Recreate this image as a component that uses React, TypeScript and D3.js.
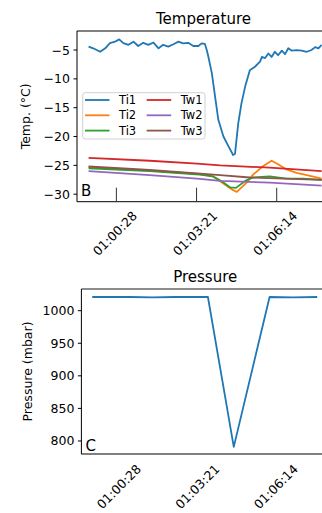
import React from 'react';
import * as d3 from 'd3';

// x tick labels (hh:mm:ss)
const tickLabels = ['01:00:28', '01:03:21', '01:06:14'];
const toSec = (s: string) => {
  const [h, m, sec] = s.split(':').map(Number);
  return h * 3600 + m * 60 + sec;
};

// temperature series, time in seconds of the day
const ti1Time = [3568, 3578, 3593, 3604, 3614, 3625, 3634, 3643, 3654, 3665, 3675, 3686, 3697, 3708, 3719, 3729, 3740, 3751, 3762, 3772, 3783, 3794, 3805, 3812, 3819, 3823, 3826, 3834, 3841, 3848, 3859, 3870, 3880, 3884, 3891, 3898, 3906, 3916, 3927, 3938, 3942, 3949, 3956, 3963, 3970, 3977, 3985, 3992, 3999, 4006, 4017, 4028, 4039, 4049, 4057, 4064, 4071];
const ti1Temp = [-4.4, -4.7, -5.3, -4.7, -3.8, -3.55, -3.15, -3.8, -4.1, -3.55, -4.3, -3.75, -4.1, -3.7, -4.7, -4.1, -4.4, -4.0, -3.55, -3.85, -3.75, -4.3, -4.3, -3.85, -3.95, -5.0, -6.0, -9.0, -13.1, -17.1, -20.0, -21.7, -23.2, -23.0, -17.7, -14.2, -11.3, -8.5, -7.9, -7.0, -6.2, -6.4, -5.6, -6.2, -5.3, -5.9, -5.1, -5.7, -4.7, -5.1, -5.0, -5.1, -5.3, -5.0, -4.5, -4.7, -4.1];

const ti2Time = [3568, 3700, 3808, 3836, 3862, 3880, 3888, 3909, 3923, 3945, 3963, 3977, 3995, 4017, 4039, 4071];
const ti2Temp = [-25.3, -25.9, -26.5, -26.9, -28.3, -29.3, -29.6, -28.0, -26.6, -25.1, -24.2, -24.8, -25.7, -26.3, -26.7, -27.3];

const ti3Time = [3568, 3700, 3808, 3836, 3856, 3873, 3886, 3906, 3923, 3959, 3995, 4031, 4071];
const ti3Temp = [-25.5, -26.0, -26.6, -26.9, -27.8, -28.8, -28.9, -27.7, -27.1, -26.9, -27.3, -27.3, -27.5];

const tw1Time = [3568, 3700, 3802, 3852, 3959, 4071];
const tw1Temp = [-23.7, -24.2, -24.7, -25.0, -25.4, -26.0];

const tw2Time = [3568, 3700, 3802, 3852, 3959, 4071];
const tw2Temp = [-26.0, -26.7, -27.3, -27.7, -28.0, -28.5];

const tw3Time = [3568, 3700, 3802, 3852, 3916, 4071];
const tw3Temp = [-25.2, -25.8, -26.4, -26.7, -27.1, -27.5];

const pressureTime = [3567, 3650, 3700, 3750, 3822, 3879, 3958, 4010, 4063];
const pressureMbar = [1021, 1021, 1020.5, 1021, 1021, 791, 1021, 1020.5, 1021];

const tempTicks = [-30, -25, -20, -15, -10, -5];
const pressureTicks = [800, 850, 900, 950, 1000];

const xDomain = [3543, 4089];
const font = 'DejaVu Sans, sans-serif';

const series = [
  { name: 'Ti1', t: ti1Time, v: ti1Temp, color: '#1f77b4' },
  { name: 'Ti2', t: ti2Time, v: ti2Temp, color: '#ff7f0e' },
  { name: 'Ti3', t: ti3Time, v: ti3Temp, color: '#2ca02c' },
  { name: 'Tw1', t: tw1Time, v: tw1Temp, color: '#d62728' },
  { name: 'Tw2', t: tw2Time, v: tw2Temp, color: '#9467bd' },
  { name: 'Tw3', t: tw3Time, v: tw3Temp, color: '#8c564b' },
];

const App: React.FC = () => {
  // temperature panel
  const tLeft = 77, tRight = 330, tTop = 31, tBottom = 201.7;
  const xT = d3.scaleLinear().domain(xDomain).range([tLeft, tRight]);
  const yT = d3.scaleLinear().domain([-31.3, -1.7]).range([tBottom, tTop]);

  // pressure panel
  const pLeft = 81.4, pRight = 329, pTop = 289, pBottom = 454;
  const xP = d3.scaleLinear().domain(xDomain).range([pLeft, pRight]);
  const yP = d3.scaleLinear().domain([780, 1033.3]).range([pBottom, pTop]);

  const lineT = (s: typeof series[0]) =>
    d3.line<number>()
      .x((_, i) => xT(s.t[i]))
      .y(d => yT(d))(s.v) || '';

  const lineP = d3.line<number>()
    .x((_, i) => xP(pressureTime[i]))
    .y(d => yP(d))(pressureMbar) || '';

  const legendCols = [series.slice(0, 3), series.slice(3)];

  return (
    <svg width={322} height={513} style={{ position: 'absolute', left: 0, top: 0, background: '#fff' }}
      fontFamily={font}>
      <defs>
        <clipPath id="clipT"><rect x={tLeft} y={tTop} width={tRight - tLeft} height={tBottom - tTop} /></clipPath>
        <clipPath id="clipP"><rect x={pLeft} y={pTop} width={pRight - pLeft} height={pBottom - pTop} /></clipPath>
      </defs>

      {/* ---- Temperature ---- */}
      <text x={(tLeft + tRight) / 2} y={24} fontSize={15} textAnchor="middle">Temperature</text>
      <g clipPath="url(#clipT)">
        {series.map(s => (
          <path key={s.name} d={lineT(s)} fill="none" stroke={s.color} strokeWidth={1.8} strokeLinejoin="round" />
        ))}
      </g>
      {/* legend */}
      <rect x={82.7} y={92.7} width={122.3} height={46.3} rx={2.5} fill="#fff" fillOpacity={0.8} stroke="#d0d0d0" strokeWidth={1} />
      {legendCols.map((col, ci) => col.map((s, ri) => {
        const lx = 85 + ci * 61.7;
        const ly = 100 + ri * 15.3;
        return (
          <g key={s.name}>
            <line x1={lx} x2={lx + 24.5} y1={ly} y2={ly} stroke={s.color} strokeWidth={1.8} />
            <text x={lx + 34} y={ly + 4} fontSize={11.5}>{s.name}</text>
          </g>
        );
      }))}
      {/* axes */}
      <line x1={tLeft} x2={tRight} y1={tTop} y2={tTop} stroke="#000" strokeWidth={1} />
      <line x1={tLeft} x2={tLeft} y1={tTop} y2={tBottom} stroke="#000" strokeWidth={1} />
      <line x1={tLeft} x2={tRight} y1={tBottom} y2={tBottom} stroke="#000" strokeWidth={1} />
      {tempTicks.map(v => (
        <g key={v}>
          <line x1={tLeft - 3.5} x2={tLeft} y1={yT(v)} y2={yT(v)} stroke="#000" strokeWidth={1} />
          <text x={tLeft - 7} y={yT(v) + 4.5} fontSize={12.5} textAnchor="end">{d3.format('')(v).replace('-', '\u2212')}</text>
        </g>
      ))}
      {tickLabels.map(l => {
        const x = xT(toSec(l));
        return (
          <g key={l}>
            <line x1={x} x2={x} y1={tBottom - 14} y2={tBottom} stroke="#333" strokeWidth={1} />
            <text transform={`translate(${x + 21.5},${tBottom + 15}) rotate(-45)`} fontSize={12.5} textAnchor="end">{l}</text>
          </g>
        );
      })}
      <text transform={`translate(29.5,${(tTop + tBottom) / 2}) rotate(-90)`} fontSize={12.5} textAnchor="middle">Temp. (°C)</text>
      <text x={tLeft + 4} y={196} fontSize={15}>B</text>

      {/* ---- Pressure ---- */}
      <text x={(pLeft + pRight) / 2} y={281.7} fontSize={15} textAnchor="middle">Pressure</text>
      <g clipPath="url(#clipP)">
        <path d={lineP} fill="none" stroke="#1f77b4" strokeWidth={1.8} strokeLinejoin="round" />
      </g>
      <line x1={pLeft} x2={pRight} y1={pTop} y2={pTop} stroke="#666" strokeWidth={1.6} />
      <line x1={pLeft} x2={pLeft} y1={pTop} y2={pBottom} stroke="#000" strokeWidth={1} />
      <line x1={pLeft} x2={pRight} y1={pBottom} y2={pBottom} stroke="#000" strokeWidth={1} />
      {pressureTicks.map(v => (
        <g key={v}>
          <line x1={pLeft - 3.5} x2={pLeft} y1={yP(v)} y2={yP(v)} stroke="#000" strokeWidth={1} />
          <text x={pLeft - 7} y={yP(v) + 4.5} fontSize={12.5} textAnchor="end">{v}</text>
        </g>
      ))}
      {tickLabels.map(l => {
        const x = xP(toSec(l));
        return (
          <text key={l} transform={`translate(${x + 22},${pBottom + 16}) rotate(-45)`} fontSize={12.5} textAnchor="end">{l}</text>
        );
      })}
      <text transform={`translate(31.5,${(pTop + pBottom) / 2}) rotate(-90)`} fontSize={12.5} textAnchor="middle">Pressure (mbar)</text>
      <text x={pLeft + 4} y={450.7} fontSize={15}>C</text>
    </svg>
  );
};

export default App;
